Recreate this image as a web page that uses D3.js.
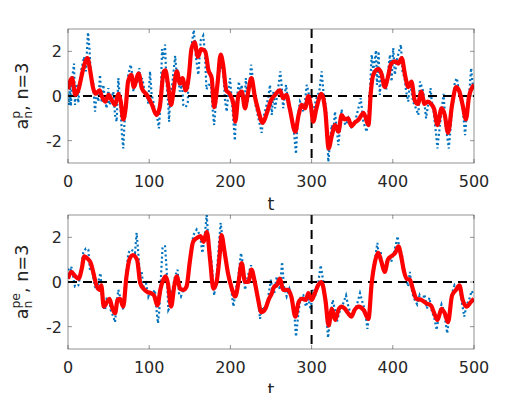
<!DOCTYPE html>
<html>
<head>
<meta charset="utf-8">
<script src="https://cdn.jsdelivr.net/npm/d3@7"></script>
<style>
  body { margin: 0; background: #fff; }
  svg { display: block; font-family: "DejaVu Sans", sans-serif; }
</style>
</head>
<body>
<div id="chart"></div>
<script>
// values, [t, value]
const xTicks = [0, 100, 200, 300, 400, 500];
const yTicks = [-2, 0, 2];
const markerT = 300;

// top panel: smoothed (red) and raw (blue dotted)
const red1 = [[0,0.3],[5,0.8],[9,0.05],[13,0.3],[18,1.1],[24,1.7],[27,1.2],[31,0.35],[34,0.1],[39,0.25],[41,0.05],[46,-0.25],[50,0.05],[54,-0.2],[58,-0.4],[62,0.1],[65,-0.25],[68,-1.05],[71,-0.55],[74,0.65],[78,0.95],[81,0.4],[87,1.0],[91,0.35],[97,0.05],[103,-0.35],[109,-0.85],[113,-0.5],[118,1.1],[120,1.15],[123,0.55],[127,-0.4],[130,0.25],[134,1.1],[138,0.55],[141,0.8],[145,0.25],[149,0.95],[152,2.1],[156,2.4],[160,1.75],[164,2.1],[169,2.0],[173,1.15],[177,0.8],[180,-0.5],[184,0.5],[188,1.85],[191,1.4],[195,0.25],[199,0.1],[204,-0.4],[206,-1.15],[210,0.05],[214,0.2],[218,-0.55],[221,0],[226,0.8],[230,0],[234,-0.6],[240,-1.2],[245,-0.75],[250,-0.2],[255,0.05],[261,0.25],[265,-0.1],[269,0.05],[273,-0.55],[280,-1.6],[284,-0.85],[288,-0.4],[292,-0.55],[296,0],[299,-0.4],[302,-1.15],[306,-0.55],[312,0.1],[317,-0.7],[321,-2.35],[325,-1.75],[329,-1.3],[333,-1.6],[337,-0.85],[341,-1.05],[345,-1.0],[349,-1.35],[353,-1.2],[358,-1.05],[364,-0.75],[370,-1.3],[373,0.2],[376,0.95],[382,1.2],[386,1.0],[390,0.4],[394,0.85],[398,1.45],[403,1.55],[407,1.45],[411,1.7],[415,0.95],[419,0.4],[423,0.65],[427,-0.2],[431,-0.35],[435,0.2],[439,-0.35],[443,-0.25],[447,-0.35],[451,-0.6],[455,-1.3],[460,-0.55],[464,-0.85],[468,-1.65],[473,-0.4],[478,0.4],[482,0.2],[486,-0.4],[490,-1.05],[494,0],[500,0.5]];

const blue1 = [[0,0.1],[1.5,-0.4],[2.5,0.65],[3.5,-0.45],[5.5,0.9],[7.4,1.45],[8.6,-0.4],[10.7,0.55],[12.7,-0.3],[14.5,0.6],[16.8,1.25],[19.7,1.75],[22,1.1],[24.6,2.85],[26.3,2.2],[27.9,1.1],[29,0.65],[31,0.65],[32.4,-0.25],[33.3,-0.7],[35.3,0.2],[37.4,-0.25],[39.4,0.95],[41.5,-0.3],[43.5,0.5],[45.6,-0.2],[47.6,-0.55],[49.7,0.35],[50.9,-0.4],[52.5,-0.25],[55.8,0.2],[57.9,-0.85],[59.9,-1.15],[62,0.8],[63.2,0.2],[64.9,-0.7],[66.5,-1.75],[68.1,-2.35],[69.4,-1.3],[71.4,-0.4],[74.3,0.95],[77.2,1.4],[79.2,0.95],[80.5,0.2],[83,0.8],[85.4,0.55],[87.8,1.25],[89.5,0.4],[91.1,0.8],[92.8,0.55],[94.8,0.05],[96.9,0.2],[98.9,-0.35],[101,1.1],[103,0.05],[105.1,-0.25],[107.1,-0.7],[110,-1.0],[112,-1.45],[114,-0.25],[115.8,2.1],[117.4,1.7],[119.5,2.3],[121,0.8],[123.5,-0.4],[124.5,-1.15],[126,0.2],[128,0.4],[132,1.8],[133.5,1.1],[135.5,1.2],[137.5,0.2],[140.5,0.5],[142,-0.4],[145,-0.5],[147.5,-0.3],[148.5,0.95],[152.3,2.3],[155,2.95],[157.5,1.75],[160.5,0.95],[163.5,2.5],[166.5,2.7],[168.5,2.0],[170.5,0.3],[173,0.5],[176,0.5],[178,-0.55],[180,-1.3],[181,-0.8],[185,0.8],[188.5,1.5],[191.5,0.95],[193.5,-0.25],[195.5,-0.7],[197.5,0.2],[199.5,0.8],[203.5,-1.0],[205.5,-2.0],[207.5,-0.25],[210.5,0.65],[212,0.05],[214,0.5],[216,-0.4],[217.5,-0.5],[219,0.8],[221.5,-0.25],[225.5,1.4],[227,0.95],[228.5,0.2],[231,-0.4],[234.5,-1.0],[238.5,-1.65],[240.5,-1.0],[242.5,-0.7],[246.5,-0.1],[248.8,0.5],[251,-0.85],[253,0.2],[255,-0.55],[257.5,0.0],[261.5,1.1],[263,0.5],[265,-0.55],[268.5,0.5],[271.5,-0.4],[274,-0.7],[277.5,-1.3],[280.8,-2.6],[282.8,-1.0],[285.7,-0.25],[287.8,-0.4],[289.8,-0.7],[291.9,-0.25],[294,0.5],[296,0.2],[298,-0.25],[300,-1.0],[302,-0.7],[306,-0.1],[309.5,0.2],[312.4,1.1],[314.5,0.2],[317.8,-0.55],[320.6,-2.95],[322.7,-2.05],[324.7,-1.3],[326.8,-1.6],[328.8,-0.7],[333,-2.2],[335,-1.45],[337,-0.6],[339,-1.15],[342.4,-1.3],[345.3,-1.0],[349.4,-1.45],[353.5,-1.15],[357.6,-0.55],[360.5,-0.1],[363.7,-1.15],[367.8,-1.6],[371,-0.4],[374,1.85],[376,1.1],[379.3,2.05],[380.5,0.5],[382.5,2.0],[384,0.05],[386,1.1],[390,0.7],[392,0.3],[394.5,1.2],[396.5,1.85],[398.5,0.65],[400.5,2.15],[402.5,0.95],[405.5,1.7],[410,2.3],[412,1.1],[414.5,0.8],[416.5,0.2],[419,-0.25],[421,0.65],[425,-0.25],[429,-0.6],[431.5,-0.85],[433.5,0.65],[437.5,0.2],[441,-1.0],[444,-0.25],[446.5,0.35],[448,-0.25],[450,-0.6],[453,-1.6],[455,-2.35],[456.5,-1.8],[460,-0.7],[462.5,0.1],[465,-1.3],[469,-2.35],[471,-1.5],[472.5,-0.7],[476.5,0.65],[479,0.8],[481,0.3],[485.5,-0.25],[489,-1.75],[491,-0.8],[493,-0.4],[496.5,1.25],[498,0.6],[500,0.3]];

// bottom panel
const red2 = [[0,0.15],[4,0.45],[9,0.25],[13,0.15],[17,0.6],[20,1.15],[24,1.05],[28,0.85],[31,0.45],[35,-0.15],[39,-0.35],[41,-0.15],[44,-1.1],[48,-0.9],[51,-0.75],[54,-1.1],[58,-1.4],[61,-0.8],[64,-0.75],[68,-1.1],[72,0.25],[76,1.05],[80,1.2],[85,1.0],[89,-0.05],[93,-0.3],[98,-0.45],[102,-0.5],[106,-0.6],[110,-1.05],[114,-0.3],[118,0.15],[120,0.25],[123,-0.05],[127,-1.1],[131,-0.15],[134,0.25],[138,-0.3],[142,-0.35],[146,-0.2],[150,0.9],[154,1.8],[158,1.95],[163,2.05],[167,1.8],[171,2.25],[175,1.0],[179,-0.3],[183,0],[187,1.3],[189,2.1],[193,1.3],[197,0.4],[201,-0.2],[206,-0.65],[210,0],[214,0.85],[218,0],[222,0],[226,0.55],[230,0],[234,-0.75],[238,-1.35],[243,-1.2],[247,-0.8],[251,-0.5],[254,-0.2],[257,-0.15],[261,0.15],[265,-0.35],[271,-0.35],[275,-0.65],[280,-1.55],[284,-0.9],[288,-0.75],[293,-0.8],[296,-0.5],[300,-0.8],[304,-0.5],[308,-0.15],[312,0],[317,-0.8],[321,-1.95],[325,-1.2],[329,-1.7],[333,-1.25],[337,-1.1],[341,-1.2],[345,-1.4],[349,-1.55],[353,-1.25],[358,-1.1],[364,-1.25],[370,-1.65],[374,-0.05],[378,0.9],[382,1.3],[386,0.9],[390,0.45],[394,1.0],[398,1.15],[403,1.3],[407,1.6],[410,1.2],[414,0.45],[417,0.15],[421,0.1],[425,-0.35],[429,-0.75],[435,-0.8],[441,-0.95],[447,-1.05],[451,-1.4],[455,-1.7],[460,-1.2],[464,-1.4],[468,-1.8],[473,-0.6],[478,-0.35],[482,-0.15],[486,-0.8],[491,-1.1],[496,-0.9],[500,-0.75]];

const blue2 = [[0,0.6],[1.5,0.25],[4,0.7],[8.6,-0.2],[12.7,-0.15],[14.8,0.25],[18.9,1.35],[22,1.5],[25,1.45],[27,0.55],[29,0.85],[31,0.25],[33,-0.2],[36,-0.35],[38.6,0.25],[40.2,0.4],[41.5,-0.65],[43.5,-1.1],[45.6,-1.25],[47.6,-0.75],[50.9,-0.8],[52.5,-1.25],[55.8,-1.55],[57.9,-1.8],[59.9,-0.95],[62,-0.35],[64,-0.65],[66,-0.95],[68.1,-1.25],[70,-0.2],[74.3,1.3],[77.2,1.45],[80.5,1.4],[82.5,1.3],[84.5,2.2],[86.6,1.3],[88.6,0.25],[90.7,0.45],[92.8,-0.2],[96,-0.05],[98.9,-0.65],[101,-0.45],[104.3,-0.5],[107,-0.35],[109,-1.25],[110.8,-1.85],[112.5,-1.25],[114.5,0.25],[116.5,1.6],[119.5,1.6],[121.5,0.55],[123.6,-1.25],[125.7,-1.1],[128.5,-0.35],[131.8,0.25],[135,0.55],[136.7,-0.5],[139,-0.65],[142,-0.35],[145,-0.3],[148.2,0.25],[151.5,1.45],[154.4,2.1],[158.5,2.35],[162.6,2.1],[165.5,1.3],[168,1.9],[170.8,3.0],[172.9,1.9],[177,0.85],[180,-0.6],[183,0.25],[186,1.75],[188,2.65],[191.3,1.6],[195.4,0.7],[199.5,0.1],[201.6,-0.5],[203.7,-1.1],[206.5,-0.35],[209.8,0.25],[213,1.3],[216,0.7],[218,-0.35],[221.3,0.25],[225.4,0.75],[228.3,0.25],[231,-0.35],[234.4,-0.9],[236.5,-1.65],[239.4,-1.1],[242.6,-1.25],[246,-0.8],[250,0.1],[252,-0.55],[254,-0.5],[257,0.25],[261,-0.35],[263.6,0.9],[266,-0.2],[269.3,-0.65],[272.6,-0.3],[275.5,-0.6],[278.4,-1.25],[280.8,-2.45],[283.7,-1.4],[286.6,-0.65],[289.8,-0.6],[293,-1.1],[296,-0.75],[299,-1.25],[301.3,-0.35],[304.2,-0.65],[308.3,0],[311.2,0.75],[314.5,0],[317.8,-1.25],[320.2,-2.5],[322.7,-1.7],[326,-0.8],[328.8,-1.25],[331,-1.8],[335,-1.25],[339,-0.95],[342.4,-0.6],[345.3,-1.1],[349.4,-1.55],[353.5,-1.25],[356.3,-0.95],[359.6,-0.5],[363,-0.95],[365.8,-1.25],[368.7,-2.1],[372,-1.1],[375.2,0.25],[378,1.0],[381,1.75],[383,1.1],[385,1.4],[387,0.6],[390,0.5],[392,0.9],[395,1.15],[398,0.9],[402,1.4],[406,2.05],[408,1.5],[411,1.3],[413,0.7],[416,0.2],[419,-0.2],[421,0.45],[424,-0.5],[427,-0.8],[430,-1.0],[433,-0.6],[436,-0.9],[439,-0.55],[442,-1.2],[445,-0.7],[448,-1.3],[451,-1.6],[454,-2.15],[457,-1.4],[460,-1.0],[463,-1.3],[467,-2.3],[470,-1.3],[473,-0.5],[476,-0.15],[479,-0.35],[482,-0.2],[485,-0.9],[488,-1.55],[491,-1.0],[494,-0.8],[497,-0.4],[500,-0.6]];

const panels = [
    { top: 29, sup: "p", red: red1, blue: blue1 },
    { top: 215, sup: "pe", red: red2, blue: blue2 }
];

const W = 513, H = 393;
const left = 68, right = 474, plotH = 134;
const axisColor = "#262626";
const textColor = "#262626";

const svg = d3.select("#chart").append("svg")
    .attr("width", W)
    .attr("height", H);

const x = d3.scaleLinear().domain([0, 500]).range([left, right]);

panels.forEach(p => {
    const y = d3.scaleLinear().domain([-3, 3]).range([p.top + plotH, p.top]);
    const g = svg.append("g");

    // clip so lines stay inside the box
    const clipId = "clip" + p.top;
    g.append("clipPath").attr("id", clipId)
        .append("rect")
        .attr("x", left).attr("y", p.top)
        .attr("width", right - left).attr("height", plotH);

    const plot = g.append("g").attr("clip-path", `url(#${clipId})`);

    const lineRaw = d3.line().x(d => x(d[0])).y(d => y(d[1]));
    const lineSmooth = d3.line().curve(d3.curveMonotoneX).x(d => x(d[0])).y(d => y(d[1]));

    plot.append("path")
        .attr("d", lineRaw(p.blue))
        .attr("fill", "none")
        .attr("stroke", "#0072BD")
        .attr("stroke-width", 2.2)
        .attr("stroke-dasharray", "2,2.6");

    // dashed reference lines
    plot.append("line")
        .attr("x1", x(0)).attr("x2", x(500))
        .attr("y1", y(0)).attr("y2", y(0))
        .attr("stroke", "#000").attr("stroke-width", 2)
        .attr("stroke-dasharray", "9,6");
    plot.append("line")
        .attr("x1", x(markerT)).attr("x2", x(markerT))
        .attr("y1", y(3)).attr("y2", y(-3))
        .attr("stroke", "#000").attr("stroke-width", 2)
        .attr("stroke-dasharray", "9,6");

    plot.append("path")
        .attr("d", lineSmooth(p.red))
        .attr("fill", "none")
        .attr("stroke", "#ff0000")
        .attr("stroke-width", 4.2)
        .attr("stroke-linejoin", "round");

    // box
    g.append("rect")
        .attr("x", left).attr("y", p.top)
        .attr("width", right - left).attr("height", plotH)
        .attr("fill", "none")
        .attr("stroke", axisColor)
        .attr("stroke-width", 0.5);

    // ticks pointing inwards on all four sides (matlab style)
    const tl = 4;
    xTicks.forEach(t => {
        g.append("line").attr("x1", x(t)).attr("x2", x(t))
            .attr("y1", p.top + plotH).attr("y2", p.top + plotH - tl)
            .attr("stroke", axisColor).attr("stroke-width", 0.5);
        g.append("line").attr("x1", x(t)).attr("x2", x(t))
            .attr("y1", p.top).attr("y2", p.top + tl)
            .attr("stroke", axisColor).attr("stroke-width", 0.5);
        g.append("text")
            .attr("x", x(t)).attr("y", p.top + plotH + 24)
            .attr("text-anchor", "middle")
            .attr("font-size", 16)
            .attr("fill", textColor)
            .text(t);
    });
    yTicks.forEach(v => {
        g.append("line").attr("x1", left).attr("x2", left + tl)
            .attr("y1", y(v)).attr("y2", y(v))
            .attr("stroke", axisColor).attr("stroke-width", 0.5);
        g.append("line").attr("x1", right).attr("x2", right - tl)
            .attr("y1", y(v)).attr("y2", y(v))
            .attr("stroke", axisColor).attr("stroke-width", 0.5);
        g.append("text")
            .attr("x", left - 6).attr("y", y(v) + 6)
            .attr("text-anchor", "end")
            .attr("font-size", 16)
            .attr("fill", textColor)
            .text(v);
    });

    // x label (the lower one runs off the page bottom, as in the original)
    g.append("text")
        .attr("x", (left + right) / 2).attr("y", p.top + plotH + 47)
        .attr("text-anchor", "middle")
        .attr("font-size", 17.6)
        .attr("fill", textColor)
        .text("t");

    // y label a^{p}_{n}, n=3
    const cy = p.top + plotH / 2;
    const lab = g.append("text")
        .attr("transform", `translate(28,${cy}) rotate(-90)`)
        .attr("text-anchor", "middle")
        .attr("font-size", 17.6)
        .attr("fill", textColor);
    lab.append("tspan").text("a");
    const sup = lab.append("tspan").attr("font-size", 12.5).attr("dy", -8).text(p.sup);
    const supW = sup.node().getComputedTextLength();
    lab.append("tspan").attr("font-size", 12.5).attr("dx", -supW).attr("dy", 12).text("n");
    lab.append("tspan").attr("dy", -4).attr("dx", Math.max(0, supW - 7.9)).text(", n=3");
});
</script>
</body>
</html>
